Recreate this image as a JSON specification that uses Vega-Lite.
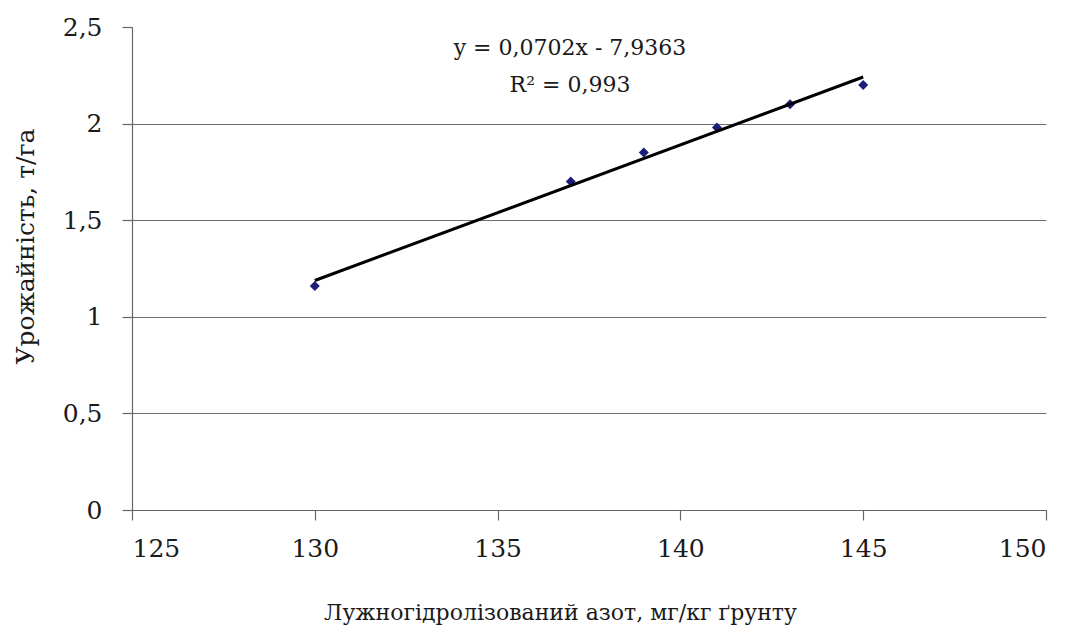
{
  "$schema": "https://vega.github.io/schema/vega-lite/v6.json",
  "width": 914,
  "height": 483,
  "autosize": {"type": "none"},
  "padding": {"left": 132, "top": 27, "right": 31, "bottom": 127},
  "background": "white",
  "title": {
    "text": ["y = 0,0702x - 7,9363", "R² = 0,993"],
    "orient": "top",
    "anchor": "middle",
    "frame": "group",
    "baseline": "top",
    "offset": -82,
    "dx": -19,
    "lineHeight": 37,
    "font": "DejaVu Serif",
    "fontSize": 22,
    "fontWeight": "normal",
    "color": "#1a1a1a"
  },
  "config": {
    "font": "DejaVu Serif",
    "view": {"stroke": null},
    "axis": {
      "labelFont": "DejaVu Serif",
      "titleFont": "DejaVu Serif",
      "labelFontSize": 25,
      "titleFontWeight": "normal",
      "labelColor": "#1a1a1a",
      "titleColor": "#1a1a1a",
      "domainColor": "#666666",
      "tickColor": "#666666",
      "tickSize": 10,
      "domainWidth": 1.2,
      "tickWidth": 1.2
    }
  },
  "data": {
    "values": [
      {"nitrogen": 130, "yield": 1.16},
      {"nitrogen": 137, "yield": 1.70},
      {"nitrogen": 139, "yield": 1.85},
      {"nitrogen": 141, "yield": 1.98},
      {"nitrogen": 143, "yield": 2.10},
      {"nitrogen": 145, "yield": 2.20}
    ]
  },
  "encoding": {
    "x": {
      "field": "nitrogen",
      "type": "quantitative",
      "scale": {"domain": [125, 150], "nice": false, "zero": false},
      "axis": {
        "values": [125, 130, 135, 140, 145, 150],
        "grid": false,
        "labelPadding": 16,
        "title": "Лужногідролізований азот, мг/кг ґрунту",
        "titleFontSize": 22,
        "titleX": 428,
        "titleY": 102,
        "titleBaseline": "middle",
        "titleAlign": "center"
      }
    },
    "y": {
      "field": "yield",
      "type": "quantitative",
      "scale": {"domain": [0, 2.5], "nice": false},
      "axis": {
        "values": [0, 0.5, 1, 1.5, 2, 2.5],
        "labelExpr": "replace(format(datum.value, '~g'), '.', ',')",
        "grid": true,
        "gridColor": "#6e6e6e",
        "gridWidth": 1.2,
        "gridOpacity": {"condition": {"test": "datum.value >= 2.5", "value": 0}, "value": 1},
        "labelPadding": 20,
        "title": "Урожайність, т/га",
        "titleFontSize": 25,
        "titleAngle": -90,
        "titleX": -107,
        "titleY": 219,
        "titleBaseline": "middle",
        "titleAlign": "center"
      }
    }
  },
  "layer": [
    {
      "mark": {"type": "point", "shape": "diamond", "filled": true, "size": 100, "color": "#1c1c7a", "opacity": 1}
    },
    {
      "transform": [{"regression": "yield", "on": "nitrogen", "extent": [130, 145]}],
      "mark": {"type": "line", "color": "#000000", "strokeWidth": 3}
    }
  ]
}
